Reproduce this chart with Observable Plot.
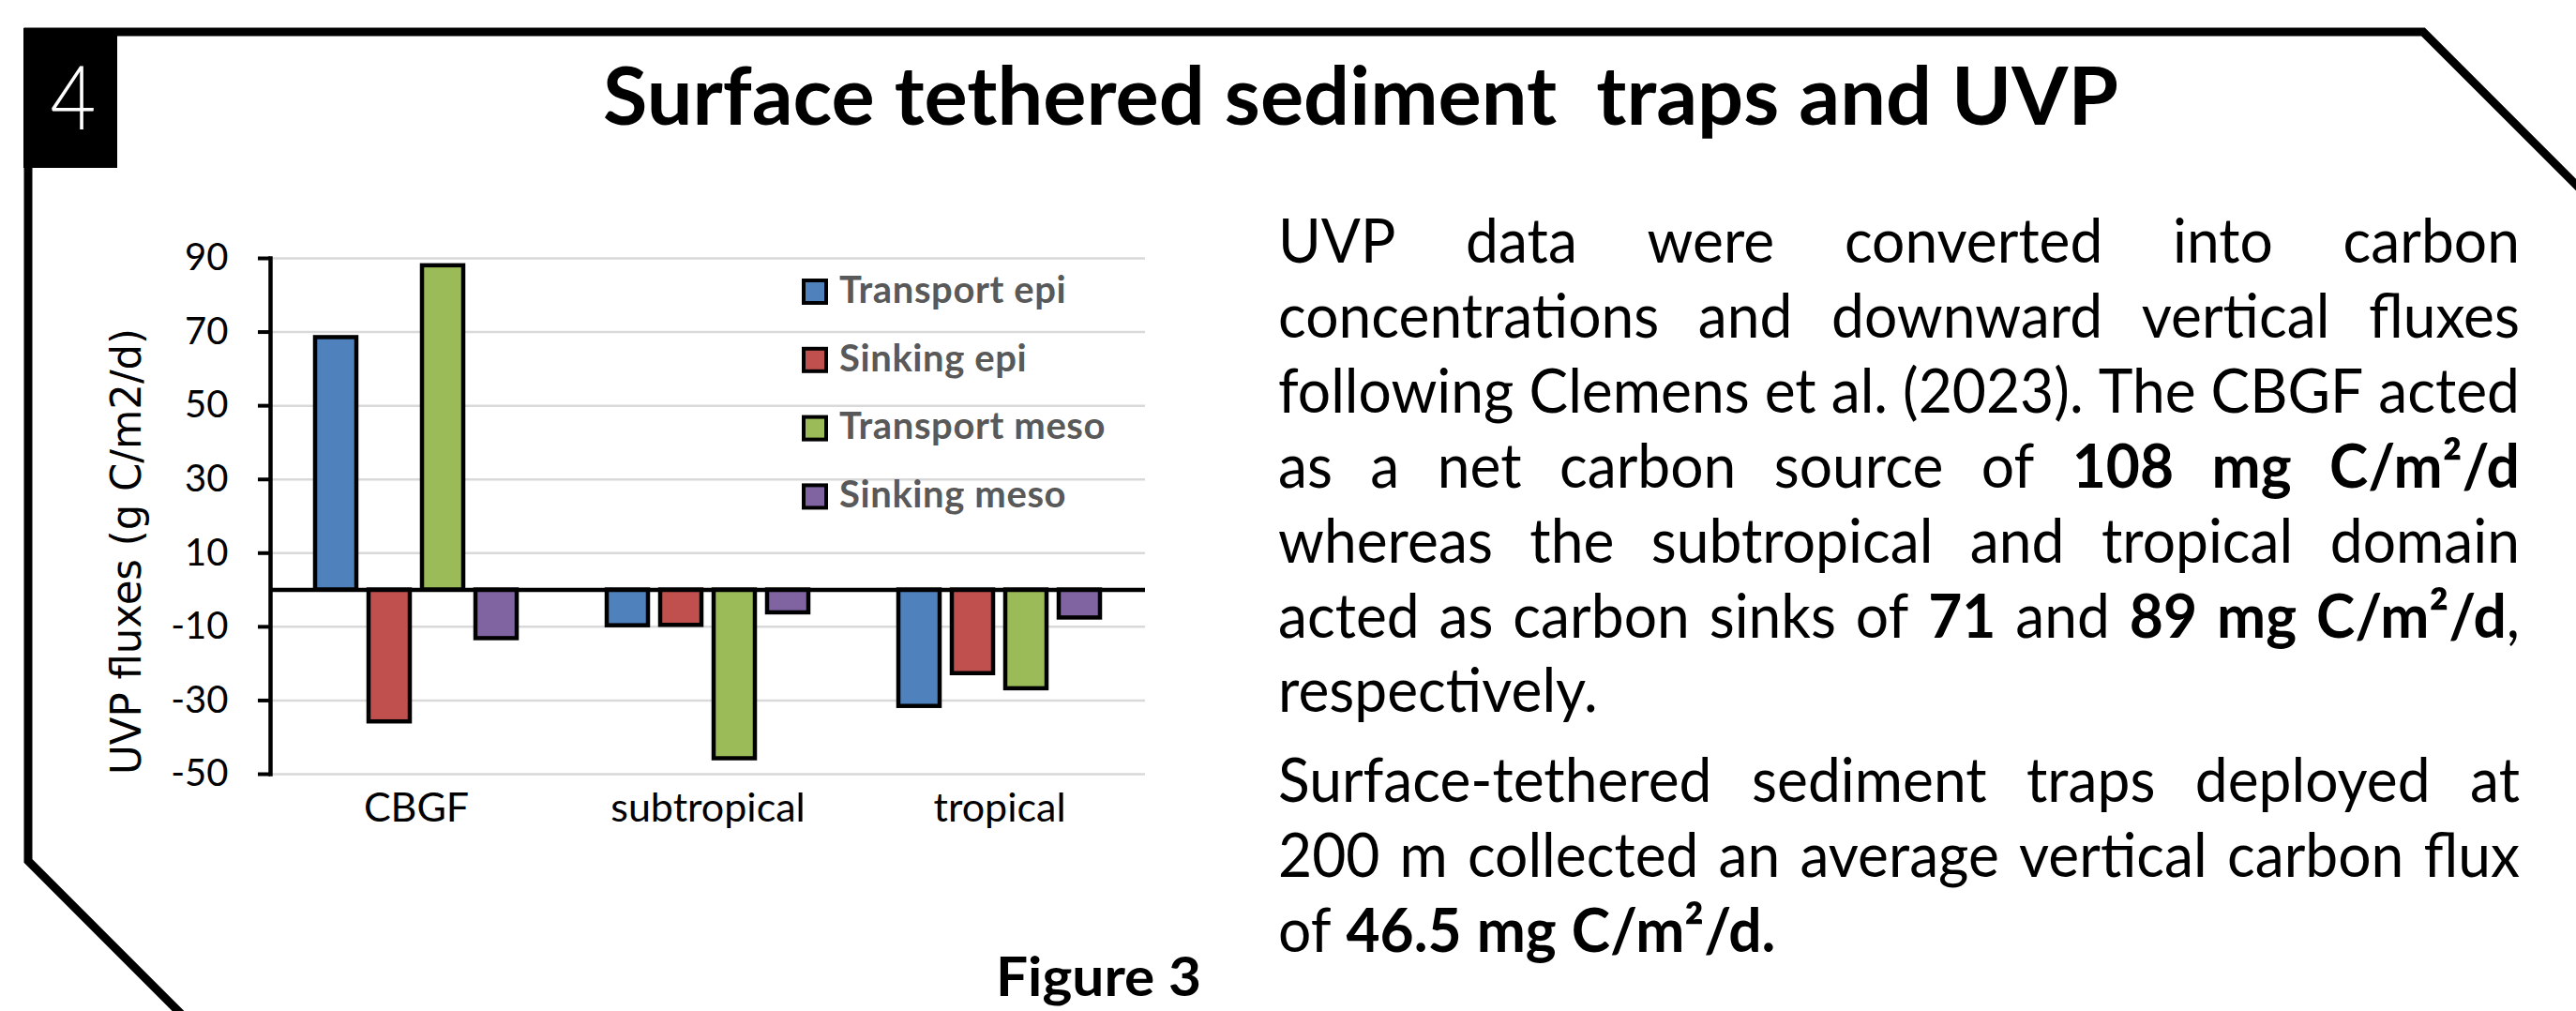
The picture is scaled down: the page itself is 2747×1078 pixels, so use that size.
<!DOCTYPE html>
<html><head><meta charset="utf-8">
<script src="https://cdn.jsdelivr.net/npm/d3@7"></script>
<script src="https://cdn.jsdelivr.net/npm/@observablehq/plot@0.6"></script>
<style>
html,body{margin:0;padding:0;background:#fff;}
#page{position:relative;width:2747px;height:1078px;overflow:hidden;background:#fff;font-family:Lato,sans-serif;}
#chart{position:absolute;left:0;top:0;}
#overlay{position:absolute;left:0;top:0;pointer-events:none;}
</style></head>
<body><div id="page"><div id="chart"></div><svg id="overlay" width="2747" height="1078"></svg></div>
<script>
// ---------- data ----------
const categories = ["CBGF", "subtropical", "tropical"];
const seriesNames = ["Transport epi", "Sinking epi", "Transport meso", "Sinking meso"];
const transportEpi = [68.5, -9.7, -31.6];
const sinkingEpi = [-35.8, -9.6, -22.7];
const transportMeso = [88.0, -45.8, -26.8];
const sinkingMeso = [-13.2, -6.2, -7.6];
const yTicks = [-50, -30, -10, 10, 30, 50, 70, 90];
const yLabel = "UVP fluxes (g C/m2/d)";
const titleText = "Surface tethered sediment  traps and UVP";
const panelNumber = "4";
const figureLabel = "Figure 3";
const paragraph1 = [
  [["UVP data were converted into carbon", 0]],
  [["concentrations and downward vertical fluxes", 0]],
  [["following Clemens et al. (2023).  The CBGF acted", 0]],
  [["as a net carbon source of ", 0], ["108 mg C/m²/d", 1]],
  [["whereas the subtropical and tropical domain", 0]],
  [["acted as carbon sinks of ", 0], ["71", 1], [" and ", 0], ["89 mg C/m²/d", 1], [",", 0]],
  [["respectively.", 0]]
];
const paragraph2 = [
  [["Surface-tethered sediment traps deployed at", 0]],
  [["200 m collected an average vertical carbon flux", 0]],
  [["of ", 0], ["46.5 mg C/m²/d.", 1]]
];

// ---------- styles ----------
const seriesColors = ["#4f81bd", "#c0504d", "#9bbb59", "#8064a2"];

const seriesValues = [transportEpi, sinkingEpi, transportMeso, sinkingMeso];
const rows = categories.flatMap((c, i) =>
  seriesNames.map((s, j) => ({category: c, series: s, value: seriesValues[j][i]})));

// ---------- chart ----------
const chart = Plot.plot({
  width: 1240, height: 900,
  marginLeft: 288, marginRight: 19, marginTop: 275, marginBottom: 75,
  style: {background: "transparent", fontFamily: "Lato", color: "#000", overflow: "visible"},
  fx: {domain: categories, paddingInner: 0, paddingOuter: 0, label: null},
  x: {domain: seriesNames, paddingInner: 0.228, paddingOuter: 0.842, axis: null},
  y: {domain: [-50, 90]},
  color: {domain: seriesNames, range: seriesColors},
  marks: [
    Plot.gridY({ticks: yTicks, stroke: "#d9d9d9", strokeOpacity: 1, strokeWidth: 2.5}),
    Plot.barY(rows, {fx: "category", x: "series", y: "value", fill: "series",
      stroke: "#000", strokeWidth: 4.5, strokeLinejoin: "miter"}),
    Plot.ruleY([0], {stroke: "#000", strokeWidth: 4.5}),
    Plot.frame({anchor: "left", facetAnchor: "left", stroke: "#000", strokeWidth: 4.5}),
    Plot.axisY({ticks: yTicks, tickSize: 13, tickPadding: 32, strokeWidth: 4, fontSize: 40,
      tickFormat: d => String(d), label: null}),
    Plot.axisFx({anchor: "bottom", tickSize: 0, tickPadding: 20, fontSize: 43, label: null})
  ]
});
document.getElementById("chart").appendChild(chart);

// ---------- overlay ----------
const NS = "http://www.w3.org/2000/svg";
const svg = document.getElementById("overlay");
function el(tag, attrs, parent = svg) {
  const e = document.createElementNS(NS, tag);
  for (const k in attrs) e.setAttribute(k, attrs[k]);
  parent.appendChild(e);
  return e;
}

// frame border
el("path", {d: "M 220 1108 L 30 918 L 30 34 L 2584 34 L 2784 234", fill: "none",
  stroke: "#000", "stroke-width": 9, "stroke-linejoin": "miter"});
el("rect", {x: 25, y: 30, width: 100, height: 149, fill: "#000"});
el("text", {x: 78, y: 138, "text-anchor": "middle", "font-size": 95, "font-weight": 300,
  "font-family": "Lato", fill: "#fff", textLength: 49, lengthAdjust: "spacingAndGlyphs"}).textContent = panelNumber;

// title
const t = el("text", {x: 643, y: 133, "font-size": 86, "font-weight": 700, "font-family": "Lato",
  fill: "#000", textLength: 1616, lengthAdjust: "spacingAndGlyphs"});
t.style.whiteSpace = "pre";
t.textContent = titleText;

// figure label
el("text", {x: 1062, y: 1062, "font-size": 58, "font-weight": 700, "font-family": "Lato",
  fill: "#000", textLength: 219, lengthAdjust: "spacingAndGlyphs"}).textContent = figureLabel;

// y-axis title
el("text", {transform: "translate(150,588) rotate(-90)", "text-anchor": "middle",
  "font-size": 44, "font-family": "DejaVu Sans", fill: "#000",
  textLength: 476, lengthAdjust: "spacingAndGlyphs"}).textContent = yLabel;

// legend (from the plot's color scale)
const colorScale = chart.scale("color");
colorScale.domain.forEach((name, i) => {
  const cy = 311 + i * 72.8;
  el("rect", {x: 857, y: cy - 12, width: 24, height: 24, fill: colorScale.range[i],
    stroke: "#000", "stroke-width": 4});
  el("text", {x: 895, y: cy + 11.7, "font-size": 40, "font-weight": 700, fill: "#595959",
    "letter-spacing": 0.6, "font-family": "Lato"}).textContent = name;
});

// body text (justified)
const bodyFont = 65, bodyX = 1363, bodyW = 1324, bodyStep = 79.9;
const blocks = [{lines: paragraph1, baseline: 280}, {lines: paragraph2, baseline: 855}];
const probe = el("text", {"font-size": bodyFont, "font-family": "Lato"});
probe.textContent = "a a"; const wa = probe.getComputedTextLength();
probe.textContent = "aa"; const wb = probe.getComputedTextLength();
const spaceW = wa - wb; probe.remove();

const laid = [];
blocks.forEach(block => {
  block.lines.forEach((segs, li) => {
    const words = [[]];
    segs.forEach(([txt, bold]) => {
      txt.split(" ").forEach((part, j) => {
        if (j > 0 && words[words.length - 1].length) words.push([]);
        if (part) words[words.length - 1].push([part, bold]);
      });
    });
    if (!words[words.length - 1].length) words.pop();
    const g = el("g", {});
    const items = words.map(w => {
      const te = el("text", {"font-size": bodyFont, "font-family": "Lato", fill: "#000"}, g);
      w.forEach(([p, b]) => {
        const ts = el("tspan", b ? {"font-weight": 700} : {}, te);
        ts.textContent = p;
      });
      return {te, w: te.getComputedTextLength()};
    });
    const sum = items.reduce((a, b) => a + b.w, 0);
    laid.push({g, items, sum, justify: li < block.lines.length - 1,
      baseline: block.baseline + li * bodyStep});
  });
});
const maxNat = Math.max(...laid.filter(l => l.justify).map(l => l.sum + (l.items.length - 1) * spaceW));
const sx = Math.min(1, bodyW / maxNat);
laid.forEach(l => {
  const inner = bodyW / sx;
  const gap = l.justify ? (inner - l.sum) / (l.items.length - 1) : spaceW;
  let x = 0;
  l.items.forEach(it => { it.te.setAttribute("x", x); x += it.w + gap; });
  l.g.setAttribute("transform", `translate(${bodyX},${l.baseline}) scale(${sx},1)`);
});
</script></body></html>
